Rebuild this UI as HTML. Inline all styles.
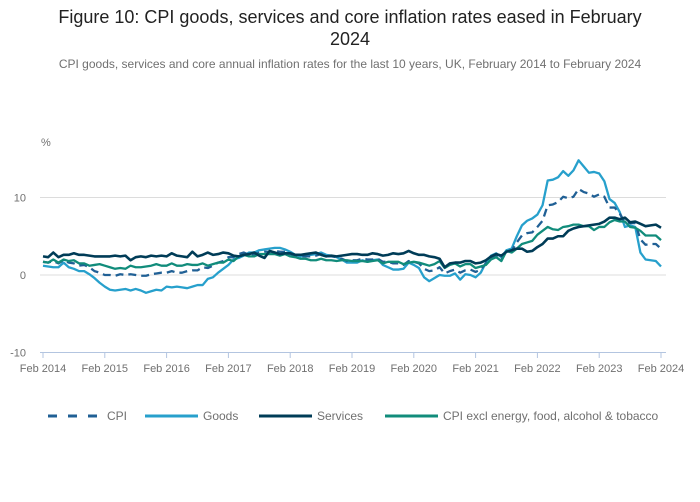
<!DOCTYPE html>
<html><head><meta charset="utf-8"><style>
body{margin:0;background:#fff;font-family:"Liberation Sans",sans-serif;}
#wrap{position:relative;width:700px;height:502px;overflow:hidden}
h1{position:absolute;top:6px;left:0;width:700px;margin:0;text-align:center;font-weight:normal;font-size:18px;line-height:22px;color:#222}
.sub{position:absolute;top:57px;left:0;width:700px;text-align:center;font-size:12px;color:#707070}
</style></head><body>
<div id="wrap">
<h1>Figure 10: CPI goods, services and core inflation rates eased in February<br>2024</h1>
<div class="sub">CPI goods, services and core annual inflation rates for the last 10 years, UK, February 2014 to February 2024</div>
<svg id="chart" width="700" height="502" style="position:absolute;left:0;top:0"></svg>
</div>
<script>
const xTickLabels=["Feb 2014","Feb 2015","Feb 2016","Feb 2017","Feb 2018","Feb 2019","Feb 2020","Feb 2021","Feb 2022","Feb 2023","Feb 2024"];
const yTicks=[-10,0,10];
const seriesNames=["CPI","Goods","Services","CPI excl energy, food, alcohol & tobacco"];
const cpi=[1.7,1.6,1.8,1.5,1.9,1.6,1.5,1.2,1.3,1.0,0.5,
0.3,0.0,0.0,-0.1,0.1,0.0,0.1,0.0,-0.1,-0.1,0.1,0.2,
0.3,0.3,0.5,0.3,0.3,0.5,0.6,0.6,1.0,0.9,1.2,1.6,
1.8,2.3,2.3,2.7,2.9,2.6,2.6,2.9,3.0,3.0,3.1,3.0,
3.0,2.7,2.5,2.4,2.4,2.4,2.5,2.7,2.4,2.4,2.3,2.1,
1.8,1.9,1.9,2.1,2.0,2.0,2.1,1.7,1.7,1.5,1.5,1.3,
1.8,1.7,1.5,0.8,0.5,0.6,1.0,0.2,0.5,0.7,0.3,0.6,
0.7,0.4,0.7,1.5,2.1,2.5,2.0,3.2,3.1,4.2,5.1,5.4,
5.5,6.2,7.0,9.0,9.1,9.4,10.1,9.9,10.1,11.1,10.7,10.5,
10.1,10.4,10.1,8.7,8.7,7.9,6.8,6.7,6.7,4.6,3.9,4.0,
4.0,3.4];
const goods=[1.2,1.1,1.0,1.0,1.6,1.0,0.8,0.5,0.5,0.1,-0.4,
-1.0,-1.5,-1.9,-2.0,-1.9,-1.8,-2.0,-1.8,-2.0,-2.3,-2.1,-1.9,
-2.0,-1.5,-1.6,-1.5,-1.6,-1.7,-1.5,-1.3,-1.3,-0.5,-0.3,0.3,
0.8,1.3,2.0,2.2,2.5,2.9,2.9,3.2,3.3,3.4,3.5,3.5,
3.3,3.0,2.6,2.4,2.5,2.6,2.7,2.9,2.6,2.5,2.3,2.0,
1.6,1.6,1.6,1.9,1.7,1.9,2.0,1.3,1.0,0.7,0.7,0.8,
1.6,1.3,0.9,-0.3,-0.8,-0.4,0.0,-0.1,-0.1,0.2,-0.6,0.1,
0.0,-0.3,0.3,1.6,2.5,2.8,2.3,3.2,3.4,5.0,6.4,7.0,
7.3,7.8,9.0,12.2,12.3,12.6,13.4,12.8,13.5,14.8,14.0,13.2,
13.3,13.1,12.1,9.8,9.3,8.1,6.2,6.4,6.2,2.9,2.0,1.9,
1.8,1.1];
const services=[2.4,2.3,2.9,2.3,2.6,2.6,2.8,2.6,2.6,2.5,2.4,
2.4,2.4,2.4,2.5,2.4,2.5,1.9,2.3,2.4,2.3,2.5,2.4,
2.5,2.4,2.8,2.5,2.4,2.3,3.0,2.4,2.6,2.9,2.6,2.7,
2.9,2.8,2.5,2.4,2.6,2.7,2.9,2.5,2.2,3.1,2.9,2.7,
2.8,2.8,2.6,2.6,2.7,2.8,2.9,2.6,2.4,2.5,2.4,2.5,
2.6,2.7,2.7,2.6,2.6,2.8,2.7,2.5,2.6,2.8,2.7,2.8,
3.1,2.8,2.6,2.6,2.4,2.3,2.1,1.0,1.5,1.6,1.6,1.8,
1.8,1.5,1.6,1.9,2.4,2.7,2.5,3.0,3.2,3.4,3.4,3.0,
3.1,3.6,4.0,4.7,4.7,5.0,5.0,5.7,6.0,6.2,6.3,6.4,
6.5,6.6,6.9,7.4,7.4,7.2,7.4,6.8,6.9,6.6,6.3,6.4,
6.5,6.1];
const core=[1.7,1.6,2.0,1.6,2.0,1.8,1.9,1.5,1.5,1.2,1.3,
1.4,1.2,1.0,0.8,0.9,0.8,1.2,1.0,1.0,1.1,1.2,1.4,
1.2,1.2,1.5,1.2,1.2,1.4,1.3,1.3,1.5,1.2,1.4,1.6,
1.6,2.0,1.8,2.4,2.6,2.4,2.4,2.7,2.7,2.7,2.7,2.5,
2.7,2.4,2.3,2.1,2.1,1.9,1.9,2.1,1.9,1.9,1.8,1.9,
1.9,1.8,1.8,1.8,1.7,1.8,1.9,1.5,1.7,1.7,1.7,1.4,
1.6,1.7,1.6,1.4,1.2,1.4,1.8,0.9,1.3,1.5,1.1,1.4,
1.4,0.9,1.1,1.3,2.0,2.3,1.8,3.1,2.9,3.4,4.0,4.2,
4.4,5.2,5.7,6.2,5.9,5.8,6.2,6.3,6.5,6.5,6.3,6.3,
5.8,6.2,6.2,6.8,7.1,6.9,6.9,6.2,6.1,5.7,5.1,5.1,
5.1,4.5];

const NS="http://www.w3.org/2000/svg";
const svg=document.getElementById('chart');
const x0=43,x1=661,yZero=275,pxPerUnit=7.75;
const nMonths=cpi.length-1;
function xScale(i){return x0+(x1-x0)*i/nMonths;}
function yScale(v){return yZero-v*pxPerUnit;}
function mk(tag,attrs){const e=document.createElementNS(NS,tag);for(const k in attrs)e.setAttribute(k,attrs[k]);svg.appendChild(e);return e;}

yTicks.forEach(t=>{
  if(t!==-10){
    const g=mk('line',{x1:40,x2:666,y1:yScale(t),y2:yScale(t),stroke:'#dcdcdc','stroke-width':1});
    
    
  }
  const tx=mk('text',{x:26,y:yScale(t)+4,'font-size':11,fill:'#707070','text-anchor':'end'});
  tx.textContent=t;
  
  
});
const pct=mk('text',{x:41,y:146,'font-size':11,fill:'#707070'});
pct.textContent='%';


const ax=mk('line',{x1:40,x2:666,y1:352.5,y2:352.5,stroke:'#b3c5e0','stroke-width':1});


xTickLabels.forEach((l,k)=>{
  const x=xScale(k*12);
  const tk=mk('line',{x1:x,x2:x,y1:352,y2:358,stroke:'#b3c5e0','stroke-width':1});
  
  
  const t=mk('text',{x:x,y:372,'font-size':11,fill:'#707070','text-anchor':'middle'});
  t.textContent=l;
  
  
});
const seriesData=[cpi,goods,services,core];
const colors=['#206095','#27a0cc','#003c57','#118c7b'];
const dashes=['8,5','','',''];
const drawOrder=[1,0,3,2];
drawOrder.forEach(s=>{
  const d=seriesData[s].map((v,i)=>(i?'L':'M')+xScale(i).toFixed(2)+','+yScale(v).toFixed(2)).join('');
  const p=mk('path',{d:d,fill:'none',stroke:colors[s],'stroke-width':s===2?2.6:2.3,'stroke-linejoin':'round','stroke-dasharray':dashes[s]});
  
  
});
const legSwX=[48,145,259,385];
const legTxX=[107,203,317,443];
seriesNames.forEach((n,s)=>{
  const l=mk('line',{x1:legSwX[s],x2:legSwX[s]+53,y1:416,y2:416,stroke:colors[s],'stroke-width':3,'stroke-dasharray':s===0?'9,11':''});
  
  
  const t=mk('text',{x:legTxX[s],y:420,'font-size':12,fill:'#707070'});
  t.textContent=n;
  
  
});
</script>
</body></html>
